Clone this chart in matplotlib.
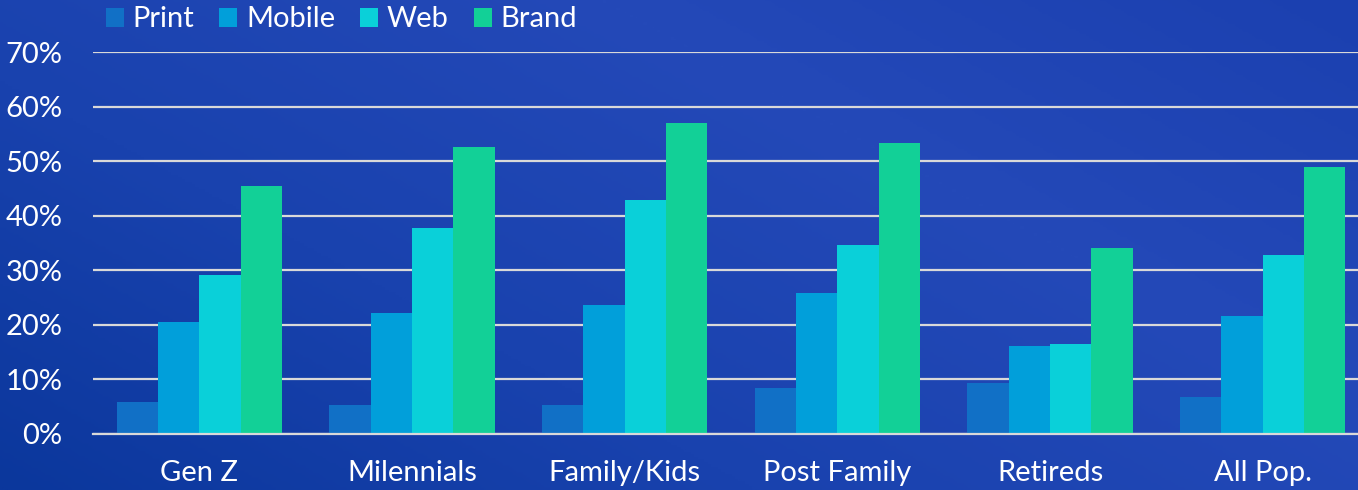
import numpy as np
import matplotlib.pyplot as plt
from matplotlib.colors import LinearSegmentedColormap

# segments and survey shares (%)
groups = ["Gen Z", "Milennials", "Family/Kids", "Post Family", "Retireds", "All Pop."]
series = ["Print", "Mobile", "Web", "Brand"]
print_vals = [5.9, 5.3, 5.3, 8.4, 9.3, 6.7]
mobile_vals = [20.5, 22.2, 23.6, 25.8, 16.2, 21.6]
web_vals = [29.1, 37.7, 42.9, 34.6, 16.5, 32.8]
brand_vals = [45.4, 52.6, 57.0, 53.3, 34.1, 48.9]
colors = ["#1170C6", "#019FDA", "#0AD0D9", "#12D097"]

plt.rcParams['font.family'] = ['Lato', 'DejaVu Sans']

W, H = 1358, 490
fig = plt.figure(figsize=(W / 100, H / 100), dpi=100)

# blue backdrop instead of the photo
bg = fig.add_axes([0, 0, 1, 1], zorder=0)
cmap = LinearSegmentedColormap.from_list("bg", ["#0B379C", "#1942AE", "#2449B8", "#1B40B0"])
yy, xx = np.mgrid[0:1:200j, 0:1:400j]
bg.imshow(0.6 * xx + 0.4 * (1 - yy), cmap=cmap, aspect="auto", extent=[0, 1, 0, 1])
bg.axis("off")

# plot area runs a little past the right edge, like the slide
ax = fig.add_axes([93 / W, 1 - 434 / H, (1369 - 93) / W, (434 - 52) / H], zorder=1)
ax.patch.set_alpha(0)

x = np.arange(len(groups))
w = 0.194
all_vals = [print_vals, mobile_vals, web_vals, brand_vals]
for i, (name, vals) in enumerate(zip(series, all_vals)):
    ax.bar(x + (i - 1.5) * w, vals, width=w, color=colors[i], label=name, zorder=3)

ax.set_xlim(-0.5, len(groups) - 0.5)
ax.set_ylim(0, 70)
ax.set_yticks(range(0, 71, 10))
ax.set_yticklabels([f"{v}%" for v in range(0, 71, 10)])
ax.set_xticks(x)
ax.set_xticklabels(groups)
ax.grid(axis="y", color="#D9D9D9", linewidth=1.6, zorder=1)
for s in ["top", "right", "left"]:
    ax.spines[s].set_visible(False)
ax.spines["bottom"].set_color("#D9D9D9")
ax.spines["bottom"].set_linewidth(1.6)
ax.spines["bottom"].set_zorder(4)
ax.tick_params(axis="both", length=0, colors="white", labelsize=21)
ax.tick_params(axis="y", pad=22)
ax.tick_params(axis="x", pad=19)

leg = fig.legend(loc="upper left", bbox_to_anchor=(103 / W, 0.993), ncol=4, frameon=False,
                 fontsize=21, handlelength=0.62, handleheight=0.62, handletextpad=0.3,
                 columnspacing=0.85, borderpad=0.1, borderaxespad=0)
for t in leg.get_texts():
    t.set_color("white")

fig.savefig("out.png", dpi=100)
